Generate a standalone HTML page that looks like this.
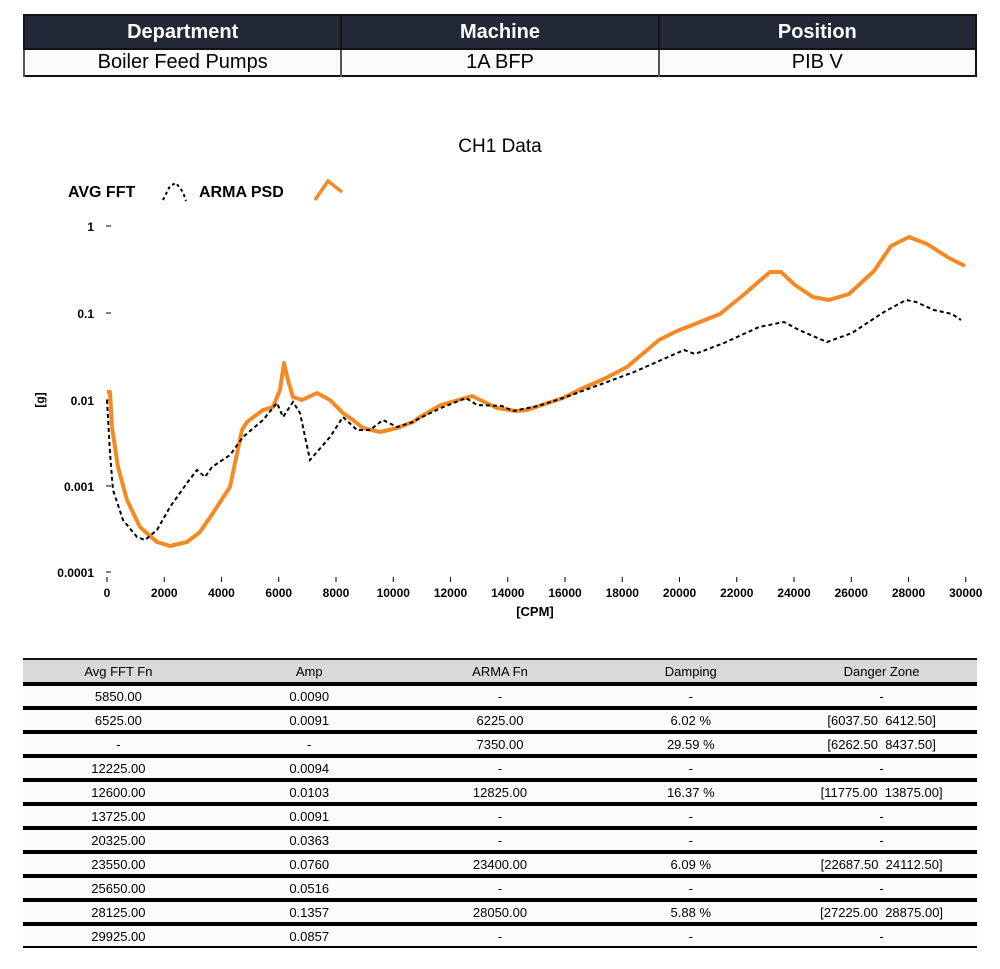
<!DOCTYPE html>
<html><head><meta charset="utf-8"><style>
body{margin:0;background:#fff;font-family:"Liberation Sans",Arial,sans-serif;}
.wrap{position:relative;width:1000px;height:969px;overflow:hidden}
table{border-collapse:collapse;position:absolute;left:23px;width:954px;table-layout:fixed}
#t1{top:14px;border:2px solid #111}
#t1 th{background:#222836;color:#fff;font-size:20px;height:32px;padding:0;border-left:2px solid #111}
#t1 td{background:#fbfbfb;font-size:20px;height:25px;padding:0;text-align:center;border-left:2px solid #555;border-top:2px solid #111}
#t2{top:658px;border-top:2px solid #111}
#t2 th{background:#d9d9d9;font-weight:normal;font-size:13px;height:22px;padding:0;border-bottom:4px solid #000}
#t2 td{background:#fbfbfb;font-size:13px;height:20px;padding:0;text-align:center;border-bottom:4px solid #000}
#t2 tr:last-child td{border-bottom:2px solid #000}
</style></head><body><div class="wrap">
<table id="t1"><tr><th>Department</th><th>Machine</th><th>Position</th></tr>
<tr><td>Boiler Feed Pumps</td><td>1A BFP</td><td>PIB V</td></tr></table>

<svg width="1000" height="640" style="position:absolute;left:0;top:0" font-family="Liberation Sans, Arial, sans-serif">
<text x="500" y="152" font-size="19" text-anchor="middle">CH1 Data</text>
<text x="68" y="197" font-size="16" font-weight="bold">AVG FFT</text>
<polyline points="163,200 170,186 176,183 183,192 186,201" fill="none" stroke="#000" stroke-width="2" stroke-dasharray="3,3"/>
<text x="199" y="197" font-size="16" font-weight="bold">ARMA PSD</text>
<polyline points="315,200 328,181 342,192" fill="none" stroke="#f58a25" stroke-width="3.5"/>
<g font-size="12" font-weight="bold" text-anchor="end">
<text x="94" y="231">1</text><text x="94" y="318">0.1</text><text x="94" y="405">0.01</text><text x="94" y="491">0.001</text><text x="94" y="577">0.0001</text></g>
<g stroke="#000" stroke-width="1"><line x1="106" x2="111" y1="226" y2="226"/><line x1="106" x2="111" y1="313" y2="313"/><line x1="106" x2="111" y1="400" y2="400"/><line x1="106" x2="111" y1="486" y2="486"/><line x1="106" x2="111" y1="572" y2="572"/></g>
<g font-size="12" font-weight="bold" text-anchor="middle" id="xt"></g>
<text x="44" y="400" font-size="12" font-weight="bold" text-anchor="middle" transform="rotate(-90 44 400)">[g]</text>
<text x="535" y="616" font-size="13" font-weight="bold" text-anchor="middle">[CPM]</text>
<polyline fill="none" stroke="#f58a25" stroke-width="4" stroke-linejoin="round" points="107,392 110,392 112,427 118,467 127,500 140,527 157,542 170,546 187,542 200,532 213,513 230,487 242,430 247,422 263,410 273,407 280,390 284,363 288,380 293,397 302,400 317,393 330,400 343,413 353,420 363,428 380,432 397,428 413,422 420,417 441,405 472,396 497,408 516,411 527,410 563,398 581,389 606,378 627,367 659,340 677,331 695,324 720,314 741,297 770,272 781,272 795,285 813,297 829,300 849,294 874,271 891,246 909,237 927,244 949,258 965,266"/>
<polyline fill="none" stroke="#000" stroke-width="2" stroke-dasharray="4,3" points="107,400 110,453 113,490 123,520 137,537 145,540 157,530 170,507 187,483 197,470 205,477 212,467 230,455 243,437 263,420 277,403 283,417 293,402 300,413 310,460 317,452 330,437 343,417 357,430 370,430 383,420 397,427 413,422 420,418 441,408 466,398 477,405 502,406 513,411 538,406 563,398 599,385 634,372 684,350 695,354 724,343 759,327 784,322 799,330 827,342 852,333 884,312 906,300 916,302 934,310 952,314 961,320"/>
</svg>
<script>
var g=document.getElementById('xt'),s='';
for(var i=0;i<=15;i++){var x=107+i*57.25;s+='<line x1="'+x+'" x2="'+x+'" y1="577" y2="582" stroke="#000"/><text x="'+x+'" y="597">'+(i*2000)+'</text>';}
g.innerHTML=s;
</script>

<table id="t2">
<tr><th>Avg FFT Fn</th><th>Amp</th><th>ARMA Fn</th><th>Damping</th><th>Danger Zone</th></tr>
<tr><td>5850.00</td><td>0.0090</td><td>-</td><td>-</td><td>-</td></tr>
<tr><td>6525.00</td><td>0.0091</td><td>6225.00</td><td>6.02 %</td><td>[6037.50&nbsp; 6412.50]</td></tr>
<tr><td>-</td><td>-</td><td>7350.00</td><td>29.59 %</td><td>[6262.50&nbsp; 8437.50]</td></tr>
<tr><td>12225.00</td><td>0.0094</td><td>-</td><td>-</td><td>-</td></tr>
<tr><td>12600.00</td><td>0.0103</td><td>12825.00</td><td>16.37 %</td><td>[11775.00&nbsp; 13875.00]</td></tr>
<tr><td>13725.00</td><td>0.0091</td><td>-</td><td>-</td><td>-</td></tr>
<tr><td>20325.00</td><td>0.0363</td><td>-</td><td>-</td><td>-</td></tr>
<tr><td>23550.00</td><td>0.0760</td><td>23400.00</td><td>6.09 %</td><td>[22687.50&nbsp; 24112.50]</td></tr>
<tr><td>25650.00</td><td>0.0516</td><td>-</td><td>-</td><td>-</td></tr>
<tr><td>28125.00</td><td>0.1357</td><td>28050.00</td><td>5.88 %</td><td>[27225.00&nbsp; 28875.00]</td></tr>
<tr><td>29925.00</td><td>0.0857</td><td>-</td><td>-</td><td>-</td></tr>
</table>
</div></body></html>
